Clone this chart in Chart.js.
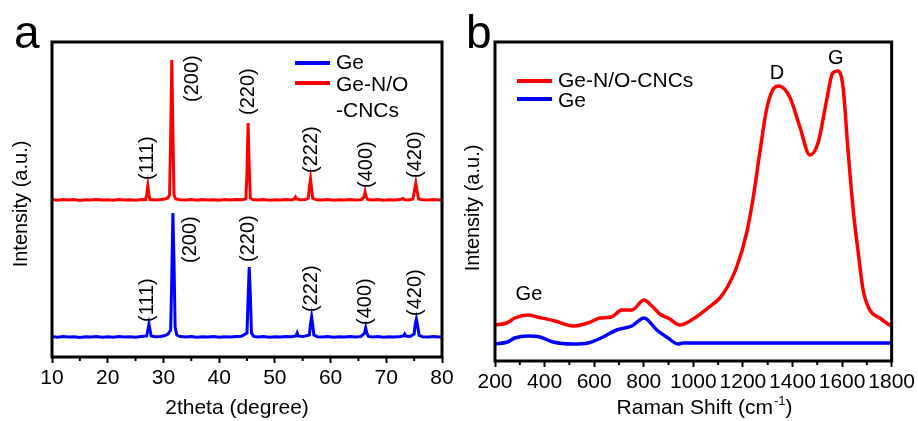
<!DOCTYPE html>
<html>
<head>
<meta charset="utf-8">
<script src="https://cdn.jsdelivr.net/npm/chart.js@4.4.1/dist/chart.umd.min.js"></script>
<style>
  html, body { margin: 0; padding: 0; background: #fff; }
  #wrap { position: relative; width: 918px; height: 421px; }
  canvas { position: absolute; top: 0; }
  #xrd { left: 0; }
  #raman { left: 460px; }
</style>
</head>
<body>
<div id="wrap">
  <canvas id="xrd" width="460" height="421"></canvas>
  <canvas id="raman" width="458" height="421"></canvas>
</div>
<script>
// --- (a) XRD ---
const xrdTicks = [10, 20, 30, 40, 50, 60, 70, 80];

const cncTheta = [10, 11, 12, 13, 14, 15, 16, 17, 18, 19, 20, 21, 22, 23, 24, 25, 26, 26.8, 27.0, 27.2, 27.4, 27.6,
  28.5, 29.5, 30.3, 30.8, 31.1, 31.3, 31.5, 31.7, 31.9, 32.2, 33, 34, 35, 36, 37, 38, 39, 40, 41, 42, 43, 44,
  44.8, 45.0, 45.2, 45.4, 45.6, 46, 47, 48, 49, 50, 51, 52, 53, 53.5, 53.7, 53.9, 54.5, 55.5, 56.0, 56.2, 56.4,
  56.6, 56.8, 57.5, 58.5, 59.5, 60.5, 61.5, 62.5, 63.5, 64.5, 65.5, 66.0, 66.2, 66.4, 66.7, 67.5, 68.5, 69.5,
  70.5, 71.5, 72.5, 73, 73.3, 74, 74.8, 75.1, 75.3, 75.5, 75.8, 76.5, 77.5, 78.5, 79.5, 80];
const cncIntensity = [157.5, 156.8, 157.6, 157, 157.4, 156.6, 157.3, 157, 157.6, 156.9, 157.2, 156.7, 157.5, 157,
  157.3, 156.8, 157.4, 157.2, 162, 171, 162, 157.5, 157, 157.4, 158, 159, 162, 220, 297, 225, 162, 158, 157.3,
  157, 157.5, 156.8, 157.4, 157, 157.3, 156.7, 157.4, 157, 157.5, 157.2, 158, 185, 234, 190, 159, 157.5, 157,
  157.4, 156.8, 157.3, 157, 157.5, 157, 158, 160, 158, 157.2, 157.4, 159, 170, 178, 168, 158.5, 157.2, 157,
  157.5, 156.8, 157.3, 157, 157.4, 157, 157.3, 160, 165, 160, 157.5, 157, 157.4, 156.8, 157.3, 157, 157.4,
  158.5, 157.2, 157, 158, 168, 174, 167, 158, 157.3, 157, 157.4, 156.9, 157.2];

const geTheta = [10, 11, 12, 13, 14, 15, 16, 17, 18, 19, 20, 21, 22, 23, 24, 25, 26, 27.0, 27.2, 27.4, 27.6, 27.8,
  28.5, 29.5, 30.3, 30.8, 31.3, 31.5, 31.7, 31.9, 32.1, 32.4, 33, 34, 35, 36, 37, 38, 39, 40, 41, 42, 43, 44,
  45.0, 45.2, 45.4, 45.6, 45.8, 46.2, 47, 48, 49, 50, 51, 52, 53, 53.8, 54.0, 54.2, 55, 56.2, 56.4, 56.6,
  56.8, 57.0, 57.6, 58.5, 59.5, 60.5, 61.5, 62.5, 63.5, 64.5, 65.5, 66.1, 66.3, 66.5, 66.8, 67.5, 68.5, 69.5,
  70.5, 71.5, 72.5, 73.1, 73.3, 73.5, 74.3, 75.0, 75.2, 75.4, 75.6, 75.9, 76.5, 77.5, 78.5, 79.5, 80];
const geIntensity = [20.4, 19.7, 20.5, 19.9, 20.3, 19.6, 20.2, 20, 20.5, 19.8, 20.2, 19.7, 20.4, 20, 20.3, 19.8,
  20.4, 21, 27, 33, 27, 21, 20.2, 20.6, 21.5, 23, 27, 80, 144, 95, 30, 22, 20.5, 20, 20.4, 19.8, 20.3, 20,
  20.4, 19.7, 20.3, 20, 20.6, 20.8, 24, 60, 90, 62, 24, 20.6, 20, 20.4, 19.8, 20.3, 20, 20.5, 20.2, 21, 24,
  21, 20.4, 22, 33, 40, 32, 22, 20.3, 20, 20.5, 19.8, 20.3, 20, 20.4, 20, 20.6, 24, 29, 24, 20.6, 20, 20.4,
  19.8, 20.3, 20, 20.5, 21, 23, 21, 20.5, 23, 33, 38, 32, 21.5, 20.3, 20, 20.4, 19.9, 20.2];

const peakNames = ['(111)', '(200)', '(220)', '(222)', '(400)', '(420)'];
// label anchor (lower end of the rotated text), in data units
const cncLabelTheta = [27.05, 35.3, 45.2, 56.5, 66.4, 75.2];
const cncLabelY = [177, 255, 242, 184, 169, 179];
const geLabelTheta = [27.05, 34.8, 45.2, 56.5, 66.2, 75.2];
const geLabelY = [35, 94, 95, 45, 32, 41];

// --- (b) Raman ---
const ramanTicks = [200, 400, 600, 800, 1000, 1200, 1400, 1600, 1800];

const cncShift = [200, 247, 280, 333, 370, 442, 515, 575, 623, 670, 711, 752, 801, 833, 865, 905, 945, 999, 1059,
  1107, 1135, 1175, 1215, 1240, 1268, 1295, 1320, 1345, 1389, 1430, 1470, 1503, 1538, 1562, 1583, 1604, 1624,
  1645, 1664, 1685, 1712, 1752, 1792, 1800];
const cncRaman = [36, 38, 43, 46, 44, 40, 35, 38, 43, 44, 51, 51, 61, 55, 47, 42, 36, 42, 53, 63, 73, 94, 128,
  161, 208, 251, 271, 275, 264, 234, 206, 218, 261, 288, 290, 274, 211, 151, 111, 71, 51, 43, 36, 35];

const geShift = [200, 250, 280, 333, 381, 434, 515, 575, 636, 690, 752, 801, 853, 898, 938, 960, 1200, 1500, 1800];
const geRaman = [17, 19, 23, 25, 24, 19, 17, 18, 24, 31, 35, 43, 31, 23, 17, 18, 18, 18, 18];

const ramanNotes = ['D', 'G', 'Ge'];
const ramanNoteShift = [1337, 1575, 337];
const ramanNoteY = [288, 303, 67];

const FONT = "'Liberation Sans', Arial, sans-serif";
const RED = '#ff0000';
const BLUE = '#0000ff';
Chart.defaults.font.family = FONT;
Chart.defaults.color = '#000';

const toXY = (xs, ys) => xs.map((v, i) => ({ x: v, y: ys[i] }));

// frame, minor ticks and all the hand placed texts
const panelDecor = {
  id: 'panelDecor',
  afterDraw(chart, args, o) {
    const { ctx, chartArea: a, scales: { x, y } } = chart;
    ctx.save();
    ctx.strokeStyle = '#000';
    ctx.lineWidth = 3;
    ctx.strokeRect(a.left, a.top, a.right - a.left, a.bottom - a.top);
    ctx.lineWidth = 2;
    const t = x.ticks;
    for (let i = 0; i < t.length - 1; i++) {
      const px = x.getPixelForValue((t[i].value + t[i + 1].value) / 2);
      ctx.beginPath(); ctx.moveTo(px, a.bottom); ctx.lineTo(px, a.bottom + 4); ctx.stroke();
    }

    ctx.fillStyle = '#000';
    ctx.font = '46px ' + FONT;
    ctx.textBaseline = 'alphabetic';
    ctx.textAlign = 'left';
    ctx.fillText(o.letter, o.letterX, 48);

    // legend
    ctx.font = '21px ' + FONT;
    ctx.textBaseline = 'middle';
    o.legend.forEach(l => {
      if (l.color) {
        ctx.strokeStyle = l.color; ctx.lineWidth = 4;
        ctx.beginPath(); ctx.moveTo(l.x - 41, l.y); ctx.lineTo(l.x - 6, l.y); ctx.stroke();
      }
      ctx.fillText(l.text, l.x, l.ty);
    });

    // y title
    ctx.save();
    ctx.font = '20px ' + FONT;
    ctx.translate(o.yTitleX, o.yTitleY);
    ctx.rotate(-Math.PI / 2);
    ctx.textAlign = 'center';
    ctx.fillText('Intensity (a.u.)', 0, 0);
    ctx.restore();

    // x title (optional superscript)
    ctx.font = '21px ' + FONT;
    const supFont = '13px ' + FONT;
    const w1 = ctx.measureText(o.xTitle[0]).width;
    ctx.font = supFont;
    const w2 = o.xTitle[1] ? ctx.measureText(o.xTitle[1]).width : 0;
    ctx.font = '21px ' + FONT;
    const w3 = o.xTitle[2] ? ctx.measureText(o.xTitle[2]).width : 0;
    let sx = o.xTitleX - (w1 + w2 + w3) / 2;
    ctx.fillText(o.xTitle[0], sx, 408);
    if (o.xTitle[1]) {
      ctx.font = supFont;
      ctx.fillText(o.xTitle[1], sx + w1 + 1, 401);
      ctx.font = '21px ' + FONT;
      ctx.fillText(o.xTitle[2], sx + w1 + w2 + 1, 408);
    }

    // notes in data units
    o.notes.forEach(n => {
      const px = x.getPixelForValue(n.x), py = y.getPixelForValue(n.y);
      ctx.save();
      ctx.font = '20px ' + FONT;
      ctx.translate(px, py);
      if (n.rotate) {
        ctx.rotate(-Math.PI / 2);
        ctx.textAlign = 'left';
      } else {
        ctx.textAlign = 'center';
      }
      ctx.fillText(n.text, 0, 0);
      ctx.restore();
    });
    ctx.restore();
  }
};

function xAxis(ticks) {
  return {
    type: 'linear', min: ticks[0], max: ticks[ticks.length - 1],
    afterFit: s => { s.height = 40; },
    afterBuildTicks: s => { s.ticks = ticks.map(v => ({ value: v })); },
    border: { display: false },
    grid: { drawOnChartArea: false, drawTicks: true, tickLength: 6, tickWidth: 2, tickColor: '#000' },
    ticks: {
      autoSkip: false, maxRotation: 0, font: { size: 21 }, color: '#000', padding: 3,
      callback: v => String(v)
    }
  };
}

const common = {
  responsive: false,
  animation: false,
  events: [],
  plugins: { legend: { display: false }, tooltip: { enabled: false } },
  elements: { point: { radius: 0 } }
};

const xrdNotes = peakNames.map((t, i) => ({ text: t, x: cncLabelTheta[i], y: cncLabelY[i], rotate: true }))
  .concat(peakNames.map((t, i) => ({ text: t, x: geLabelTheta[i], y: geLabelY[i], rotate: true })));

new Chart(document.getElementById('xrd'), {
  type: 'line',
  data: {
    datasets: [
      { label: 'Ge', data: toXY(geTheta, geIntensity), borderColor: BLUE, borderWidth: 3, tension: 0 },
      { label: 'Ge-N/O-CNCs', data: toXY(cncTheta, cncIntensity), borderColor: RED, borderWidth: 3, tension: 0 }
    ]
  },
  options: {
    ...common,
    layout: { padding: { left: 52, right: 18, top: 42, bottom: 24 } },
    scales: {
      x: xAxis(xrdTicks),
      y: { display: false, min: 0, max: 315 }
    },
    plugins: {
      ...common.plugins,
      panelDecor: {
        letter: 'a', letterX: 14,
        legend: [
          { text: 'Ge', color: BLUE, x: 336, y: 63, ty: 63 },
          { text: 'Ge-N/O', color: RED, x: 336, y: 83, ty: 85 },
          { text: '-CNCs', x: 336, ty: 111 }
        ],
        yTitleX: 21, yTitleY: 204,
        xTitle: ['2theta (degree)'], xTitleX: 237,
        notes: xrdNotes
      }
    }
  },
  plugins: [panelDecor]
});

new Chart(document.getElementById('raman'), {
  type: 'line',
  data: {
    datasets: [
      { label: 'Ge-N/O-CNCs', data: toXY(cncShift, cncRaman), borderColor: RED, borderWidth: 3.5, cubicInterpolationMode: 'monotone' },
      { label: 'Ge', data: toXY(geShift, geRaman), borderColor: BLUE, borderWidth: 3.5, cubicInterpolationMode: 'monotone' }
    ]
  },
  options: {
    ...common,
    layout: { padding: { left: 35, right: 26, top: 42, bottom: 20 } },
    scales: {
      x: xAxis(ramanTicks),
      y: { display: false, min: 0, max: 319 }
    },
    plugins: {
      ...common.plugins,
      panelDecor: {
        letter: 'b', letterX: 6,
        legend: [
          { text: 'Ge-N/O-CNCs', color: RED, x: 98, y: 81, ty: 81 },
          { text: 'Ge', color: BLUE, x: 98, y: 99, ty: 101 }
        ],
        yTitleX: 13, yTitleY: 208,
        xTitle: ['Raman Shift (cm', '-1', ')'], xTitleX: 244,
        notes: ramanNotes.map((t, i) => ({ text: t, x: ramanNoteShift[i], y: ramanNoteY[i] }))
      }
    }
  },
  plugins: [panelDecor]
});
</script>
</body>
</html>
